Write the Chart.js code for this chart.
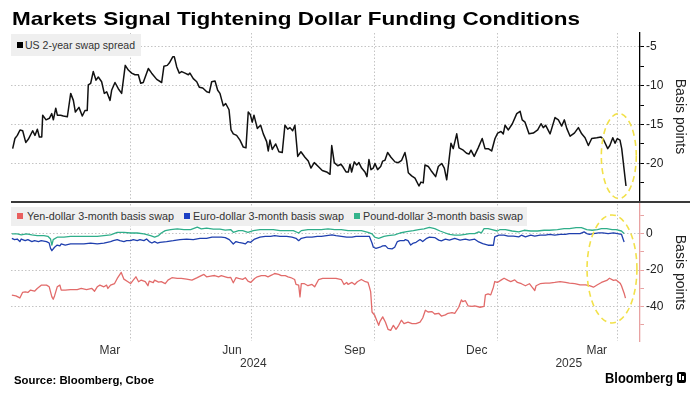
<!DOCTYPE html>
<html><head><meta charset="utf-8">
<script src="https://cdn.jsdelivr.net/npm/chart.js@4.4.0/dist/chart.umd.min.js"></script>
<style>
html,body{margin:0;padding:0;background:#fff;}
body{width:699px;height:399px;overflow:hidden;position:relative;font-family:"Liberation Sans",Arial,Helvetica,sans-serif;}
canvas{position:absolute;left:0;top:0;}
.abs{position:absolute;}
.fit{position:absolute;white-space:nowrap;transform-origin:0 50%;display:inline-block;}
.box{position:absolute;background:#efefef;}
.sq{position:absolute;width:6px;height:6px;}
</style></head><body>
<canvas id="c1" width="699" height="399"></canvas>
<canvas id="c2" width="699" height="399"></canvas>

<div class="fit" data-w="568" style="left:12px;top:7px;font-size:19px;line-height:24px;font-weight:bold;color:#000;">Markets Signal Tightening Dollar Funding Conditions</div>

<div class="box" style="left:11px;top:34px;width:130px;height:22px;"></div>
<div class="sq" style="left:17px;top:42px;background:#000;"></div>
<div class="fit" data-w="110" style="left:24.5px;top:34px;font-size:10.5px;line-height:22px;color:#333;">US 2-year swap spread</div>

<div class="abs" style="left:11px;top:200.5px;width:679px;height:2.2px;background:#3a3a3a;"></div>

<div class="box" style="left:11px;top:206.5px;width:516px;height:19px;"></div>
<div class="sq" style="left:17px;top:213px;background:#e95f5e;"></div>
<div class="fit" data-w="147" style="left:26.5px;top:206.5px;font-size:10.5px;line-height:19px;color:#333;">Yen-dollar 3-month basis swap</div>
<div class="sq" style="left:184px;top:213px;background:#1c3fc4;"></div>
<div class="fit" data-w="151" style="left:193px;top:206.5px;font-size:10.5px;line-height:19px;color:#333;">Euro-dollar 3-month basis swap</div>
<div class="sq" style="left:354px;top:213px;background:#34b38b;"></div>
<div class="fit" data-w="160" style="left:363px;top:206.5px;font-size:10.5px;line-height:19px;color:#333;">Pound-dollar 3-month basis swap</div>

<div class="fit" data-w="140" style="left:14px;top:372px;font-size:10.5px;line-height:16px;font-weight:bold;color:#000;">Source: Bloomberg, Cboe</div>
<div class="fit" data-w="68" style="left:605px;top:369px;font-size:14px;line-height:18px;font-weight:bold;color:#000;">Bloomberg</div>
<div class="abs" style="left:677px;top:372px;width:9px;height:11px;background:#000;border-radius:2px;">
  <div class="abs" style="left:2px;top:2px;width:2px;height:6px;background:#fff;"></div>
  <div class="abs" style="left:5px;top:4px;width:2px;height:4px;background:#fff;"></div>
</div>

<script>
// x values are days since 2024-01-01
const usDays = [2.6,4.3,6.1,8.1,10.1,12.4,14.3,17.6,19.3,21.1,
22.6,24.4,25.1,27.6,30.1,31.9,33.1,34.9,36.1,38.6,
40.6,43.6,46.1,48.1,49.6,52.3,54.8,56.8,58.5,59.3,
61.1,63.0,65.1,66.8,69.3,71.3,73.1,75.6,76.8,79.3,
81.8,84.3,87.0,89.3,91.8,94.3,96.8,98.6,100.5,104.3,
106.8,110.6,114.3,116.0,118.5,120.0,122.6,123.8,125.6,127.5,
129.3,131.8,134.3,135.5,138.0,140.6,142.5,145.1,148.1,150.0,
151.8,154.3,156.3,158.0,160.5,162.3,164.8,166.3,168.0,170.5,
173.0,175.5,177.5,179.2,180.7,182.2,183.5,186.0,188.5,190.5,
193.0,194.2,195.5,197.2,199.8,202.2,204.7,206.7,208.8,210.5,
212.5,214.2,216.3,218.7,221.7,224.2,226.2,228.7,231.7,234.7,
238.0,240.5,241.8,243.7,246.3,248.7,250.4,252.5,254.2,255.5,
256.7,258.7,260.5,262.2,264.2,266.7,268.2,269.7,271.2,272.9,
274.2,276.2,278.5,280.0,281.7,283.7,286.2,289.2,291.7,294.2,
296.7,297.9,299.2,301.7,304.2,307.2,308.7,310.4,311.7,314.2,
316.2,319.7,321.7,324.2,326.2,328.0,331.2,332.9,335.5,337.2,
340.4,342.9,344.7,346.2,348.6,351.6,354.6,356.7,359.1,361.7,
364.2,366.2,368.7,370.4,371.7,374.2,377.2,380.5,383.0,384.6,
386.7,389.7,392.9,396.2,398.7,400.4,402.2,405.5,409.2,411.7,
414.2,416.2,418.0,420.5,423.7,426.7,429.2,431.7,434.2,436.7,
440.5,443.7,445.4,448.7,450.3,452.5,454.2,455.9,457.9,459.2,
462.4];
const usSpread = [-18.1,-16.8,-16.4,-15.7,-15.8,-17.3,-16.9,-15.8,-16.4,-15.6,
-16.6,-16.6,-13.8,-14.4,-14.2,-13.6,-14.4,-12.9,-13.8,-13.8,
-13.9,-14.0,-11.0,-11.9,-13.4,-12.8,-13.9,-13.2,-13.2,-9.9,
-9.7,-8.2,-9.3,-8.9,-9.5,-11.0,-10.8,-11.9,-10.6,-9.6,
-10.4,-11.0,-7.4,-8.0,-8.4,-8.6,-8.6,-9.7,-9.6,-7.8,
-8.4,-9.2,-9.6,-7.5,-7.4,-7.1,-6.3,-6.3,-7.6,-8.4,
-8.2,-8.4,-8.6,-8.4,-9.1,-9.5,-10.2,-10.3,-10.8,-10.9,
-9.5,-9.4,-10.6,-11.0,-12.6,-12.3,-13.1,-15.7,-16.2,-16.4,
-17.0,-17.9,-18.0,-13.4,-13.7,-14.7,-13.8,-15.5,-15.1,-16.2,
-17.2,-18.4,-17.0,-18.2,-17.5,-18.5,-18.6,-15.1,-15.6,-15.4,
-15.8,-15.1,-19.1,-18.5,-19.2,-19.7,-20.6,-19.9,-20.4,-20.9,
-21.1,-21.4,-17.7,-19.9,-20.3,-20.1,-20.5,-21.1,-21.1,-20.1,
-21.1,-19.8,-20.2,-19.9,-20.6,-21.1,-21.7,-19.5,-20.8,-20.6,
-20.0,-20.8,-20.4,-19.7,-19.6,-18.6,-19.2,-19.8,-19.9,-19.6,
-18.6,-19.6,-21.2,-21.6,-21.9,-22.9,-22.4,-22.5,-20.2,-20.4,
-20.9,-21.7,-20.4,-20.0,-20.6,-22.1,-17.4,-18.1,-16.2,-18.0,
-18.3,-18.7,-18.8,-18.3,-19.1,-18.0,-16.8,-18.1,-18.1,-18.4,
-16.8,-16.1,-15.9,-16.2,-15.1,-15.7,-14.9,-13.6,-13.3,-14.4,
-14.7,-16.2,-16.1,-15.7,-14.9,-15.4,-15.1,-16.2,-14.1,-14.4,
-15.2,-14.4,-15.5,-16.5,-16.1,-15.4,-16.2,-16.7,-17.7,-16.8,
-16.7,-16.6,-16.9,-18.1,-17.7,-16.7,-17.4,-16.8,-17.0,-18.1,
-22.9];

const yenDays = [2,5,8,10,12,14,16,19,21,24, 28,30,32,33,34,36,38,39,42,46,
51,54,58,62,64,66,68,71,73,74, 76,79,81,84,86,89,91,93,95,97,
99,102,104,105,108,109,112,114,117,119, 122,126,129,133,137,141,144,146,148,151,
154,157,159,162,164,166,168,170,172,175, 177,179,181,184,186,189,192,194,197,199,
202,204,207,209,211,214,215,217,218,219, 221,224,227,229,232,235,238,242,245,249,
251,253,254,257,259,261,264,267,269,270, 271,272,274,275,277,278,280,282,284,286,
288,290,292,294,296,299,302,305,308,310, 312,314,317,319,322,324,327,329,332,334,
337,339,340,342,344,347,349,353,356,357, 359,361,363,364,366,369,371,374,376,379,
381,384,387,390,392,394,395,398,402,405, 409,413,417,420,424,428,432,435,438,441,
444,448,450,453,455,458,459,461,462];
const yenBasis = [-33.8,-34.2,-35.3,-32.3,-32.0,-32.3,-31.0,-31.6,-30.1,-28.3,
-28.3,-29.2,-34.7,-36.0,-34.2,-29.2,-28.3,-31.0,-31.0,-30.7,
-30.7,-30.1,-30.7,-30.1,-31.6,-29.2,-28.3,-29.2,-28.3,-30.1,
-28.3,-27.4,-24.6,-21.3,-25.0,-26.4,-27.4,-25.5,-23.7,-26.4,
-25.5,-26.4,-28.6,-26.1,-26.9,-25.5,-26.6,-26.4,-27.4,-25.5,
-24.2,-24.6,-24.6,-25.0,-25.5,-24.2,-23.1,-22.4,-23.7,-23.3,
-23.0,-23.7,-23.1,-23.7,-24.2,-24.0,-27.0,-24.2,-24.6,-25.1,
-24.2,-26.1,-26.8,-24.6,-23.7,-23.1,-23.1,-23.7,-22.7,-21.9,
-22.4,-23.1,-23.1,-23.7,-24.1,-25.2,-27.9,-28.3,-34.7,-27.4,
-27.4,-28.6,-27.9,-29.2,-25.2,-24.6,-24.6,-24.6,-24.6,-25.2,
-27.9,-26.8,-27.9,-26.8,-27.9,-26.4,-25.2,-26.4,-26.8,-29.2,
-32.0,-43.0,-44.8,-46.7,-50.3,-48.1,-45.7,-48.5,-52.5,-53.1,
-50.3,-52.5,-50.3,-47.5,-49.4,-48.5,-49.4,-49.4,-48.5,-46.3,
-42.0,-43.0,-42.8,-44.1,-43.7,-45.2,-44.6,-43.7,-43.4,-43.7,
-40.4,-36.4,-37.3,-36.8,-39.6,-39.9,-39.6,-40.4,-39.9,-33.6,
-33.1,-33.6,-29.4,-26.3,-26.8,-25.4,-24.5,-25.7,-26.3,-25.4,
-26.8,-27.5,-28.6,-27.5,-29.4,-31.2,-28.6,-27.5,-27.2,-27.2,
-26.8,-26.3,-26.8,-27.2,-27.5,-28.1,-28.1,-28.6,-29.4,-28.1,
-26.8,-25.7,-24.5,-25.7,-25.4,-27.2,-28.6,-32.7,-35.4];

const euroDays = [2,4,6,8,9,12,14,17,19,22, 24,28,30,31,32,34,36,38,39,42,
46,51,56,61,66,71,76,78,81,83, 86,88,91,93,96,98,101,103,105,107,
109,111,113,118,123,128,133,138,143,148, 152,156,159,162,165,168,170,172,175,177,
179,181,184,188,192,196,199,203,208,212, 215,217,219,223,227,231,234,238,242,245,
249,253,257,260,264,268,270,272,273,275, 278,280,282,284,287,289,291,293,296,297,
299,301,303,305,308,310,313,315,319,322, 324,327,330,334,338,342,345,349,352,355,
359,363,364,367,371,374,378,382,384,387, 391,394,398,402,405,409,413,417,420,424,
428,431,433,435,438,442,445,449,453,456, 459,461];
const euroBasis = [-2.6,-3.3,-3.0,-4.4,-3.0,-3.9,-3.3,-4.4,-3.9,-4.4,
-3.9,-4.4,-5.2,-8.1,-9.4,-7.5,-6.3,-6.8,-5.7,-6.3,
-5.7,-5.7,-5.7,-5.2,-5.7,-5.2,-4.4,-3.9,-3.3,-3.9,
-4.4,-3.9,-3.9,-3.3,-3.9,-3.3,-3.9,-3.0,-4.4,-5.2,
-4.4,-5.2,-4.8,-4.4,-3.9,-3.3,-3.0,-3.3,-2.6,-2.6,
-2.0,-2.0,-2.0,-2.2,-3.3,-5.7,-4.4,-4.8,-5.2,-5.7,
-4.4,-4.8,-3.0,-2.0,-1.5,-1.5,-1.1,-1.5,-1.5,-2.0,
-2.6,-3.9,-2.6,-2.0,-2.0,-1.5,-1.5,-1.1,-0.7,-1.1,
-1.5,-2.0,-2.0,-1.5,-1.5,-1.5,-1.5,-5.2,-7.5,-8.1,
-7.5,-6.8,-6.6,-8.1,-8.4,-7.5,-4.4,-3.9,-3.9,-3.3,
-3.9,-6.3,-5.2,-4.8,-3.3,-4.4,-2.6,-2.0,-2.2,-3.6,
-4.0,-3.1,-3.6,-2.7,-3.6,-3.1,-3.6,-3.1,-4.6,-5.5,
-6.4,-6.4,-1.8,-0.9,-0.9,-1.4,-1.4,-1.8,-0.9,-1.8,
-0.9,-1.4,-0.9,-0.9,-0.5,-0.9,-0.4,-0.4,0,0,
0,0.9,0,-0.5,0,0.4,0.4,0,0.4,0,
-0.4,-4.6];

const poundDays = [2,6,9,13,17,21,26,29,31,32, 33,36,41,46,51,56,61,66,71,76,
78,81,86,91,96,101,106,109,112,114, 117,121,126,131,136,141,144,148,153,158,
162,166,168,172,175,179,183,188,193,198, 203,208,213,217,219,224,229,234,239,244,
249,254,259,264,269,272,274,277,281,284, 289,293,298,303,307,311,315,319,323,327,
330,334,338,342,345,349,352,354,356,359, 362,366,368,372,377,382,386,391,396,401,
405,411,416,420,425,429,433,437,441,444, 448,452,455,459,461];
const poundBasis = [-0.2,-0.2,-0.7,-0.2,-0.7,-1.1,-1.1,-1.5,-3.0,-6.3,
-3.3,-2.0,-2.0,-1.6,-1.6,-1.5,-1.5,-1.5,-1.1,-0.7,
-0.2,0.7,0.7,0.3,0.3,-0.2,-1.1,-2.0,-1.1,0.3,
1.6,2.2,2.6,2.2,2.2,3.5,2.6,3.0,2.4,2.4,
1.9,2.2,0.7,1.6,1.6,0.7,1.6,2.2,2.2,2.2,
1.6,1.6,1.6,0.3,1.6,2.2,2.2,2.2,2.6,2.2,
2.2,1.6,1.6,1.6,0.7,-0.2,-2.0,-2.6,-1.5,-1.1,
-0.7,0.3,1.1,1.6,2.2,2.6,3.4,2.7,1.4,0.3,
-0.5,-0.9,-0.9,-0.4,0,0,0.9,0.4,2.7,2.7,
2.2,1.4,2.2,2.2,1.4,0.9,1.8,1.4,1.4,1.8,
1.8,2.2,2.7,2.7,3.3,3.3,2.2,1.8,2.2,2.7,
2.7,2.2,2.2,1.4,0];

// axis ticks (days since 2024-01-01)
const gridDays = [91, 182, 274, 366, 456];              // Apr 1, Jul 1, Oct 1, Jan 1, Apr 1
const monthTickDays = [75.5, 167, 259, 350.5, 440.5];
const monthTickLabels = ['Mar', 'Jun', 'Sep', 'Dec', 'Mar'];
const yearTickDays = [183, 419.5];
const yearTickLabels = ['2024', '2025'];
const topTickValues = [-22.5, -20, -17.5, -15, -12.5, -10, -7.5, -5];
const bottomTickValues = [-50, -40, -30, -20, -10, 0, 10];

const X_MIN = 1.35, X_MAX = 472.9;
const TOP_MIN = -24.7, TOP_MAX = -3.24;
const BOT_MIN = -58.9, BOT_MAX = 16.2;

const FAMILY = '"Liberation Sans", Arial, Helvetica, sans-serif';
Chart.defaults.font.family = FAMILY;
Chart.defaults.color = '#222';
const GRID = '#c4c4c4';

function pairs(xs, ys) {
  const n = Math.min(xs.length, ys.length), out = [];
  for (let i = 0; i < n; i++) out.push({x: xs[i], y: ys[i]});
  return out;
}

const ringPlugin = {
  id: 'ring',
  afterDatasetsDraw(chart, args, o) {
    if (!o || o.x === undefined) return;
    const xs = chart.scales.x, ys = chart.scales.y, ctx = chart.ctx;
    const cx = xs.getPixelForValue(o.x), cy = ys.getPixelForValue(o.y);
    const rx = Math.abs(xs.getPixelForValue(o.x + o.rx) - cx);
    const ry = Math.abs(ys.getPixelForValue(o.y + o.ry) - cy);
    ctx.save();
    ctx.strokeStyle = '#f2e14a';
    ctx.lineWidth = 1.6;
    ctx.setLineDash([6, 4]);
    ctx.beginPath();
    ctx.ellipse(cx, cy, rx, ry, 0, 0, Math.PI * 2);
    ctx.stroke();
    ctx.restore();
  }
};

function gridX() {
  return {
    type: 'linear', min: X_MIN, max: X_MAX, weight: 0,
    afterBuildTicks: s => { s.ticks = gridDays.map(v => ({value: v})); },
    ticks: {display: false},
    grid: {drawTicks: false, color: GRID, lineWidth: 1},
    border: {display: false, dash: [1.5, 2]},
    afterFit: s => { s.height = 0; }
  };
}

function rightY(min, max, values, isMajor, axisColor) {
  return {
    position: 'right', min: min, max: max,
    afterBuildTicks: s => { s.ticks = values.map(v => ({value: v})); },
    ticks: {callback: v => isMajor(v) ? String(v) : '', font: {size: 12}, color: '#222', padding: 2, autoSkip: false},
    grid: {tickLength: 4, color: c => (c.tick && isMajor(c.tick.value)) ? GRID : 'rgba(0,0,0,0)', tickColor: axisColor, tickWidth: 1},
    border: {display: true, color: axisColor, width: 1.3, dash: [1.5, 2]},
    title: {display: true, text: 'Basis points', font: {size: 14}, color: '#222', padding: {top: 11, bottom: 0}},
    afterFit: s => { s.width = 59; }
  };
}

const common = {
  responsive: false, animation: false, events: [],
  elements: {line: {tension: 0, borderJoinStyle: 'round'}, point: {radius: 0}}
};

new Chart(document.getElementById('c1'), {
  type: 'line',
  data: {datasets: [{
    label: 'US 2-year swap spread', data: pairs(usDays, usSpread),
    borderColor: '#111', borderWidth: 1.5, pointRadius: 0
  }]},
  options: Object.assign({}, common, {
    layout: {padding: {left: 11, right: 0, top: 33, bottom: 199}},
    plugins: {legend: {display: false}, tooltip: {enabled: false},
      ring: {x: 457, y: -19.05, rx: 13.1, ry: 5.46}},
    scales: {
      x: gridX(),
      y: rightY(TOP_MIN, TOP_MAX, topTickValues, v => Math.abs(v % 5) < 1e-9, '#000')
    }
  }),
  plugins: [ringPlugin]
});

const monthAxis = {
  type: 'linear', position: 'bottom', min: X_MIN, max: X_MAX, weight: 1,
  afterBuildTicks: s => { s.ticks = monthTickDays.map(v => ({value: v})); },
  ticks: {callback: (v, i) => monthTickLabels[i], autoSkip: false, maxRotation: 0, font: {size: 12}, color: '#333', padding: 2},
  grid: {display: false, drawTicks: false},
  border: {display: false},
  afterFit: s => { s.height = 14; }
};
const yearAxis = {
  type: 'linear', position: 'bottom', min: X_MIN, max: X_MAX, weight: 2,
  afterBuildTicks: s => { s.ticks = yearTickDays.map(v => ({value: v})); },
  ticks: {callback: (v, i) => yearTickLabels[i], autoSkip: false, maxRotation: 0, font: {size: 12}, color: '#333', padding: 1},
  grid: {display: false, drawTicks: false},
  border: {display: false},
  afterFit: s => { s.height = 16; }
};

new Chart(document.getElementById('c2'), {
  type: 'line',
  data: {datasets: [
    {label: 'Yen-dollar 3-month basis swap', data: pairs(yenDays, yenBasis), borderColor: '#e26b6a', borderWidth: 1.3, pointRadius: 0},
    {label: 'Euro-dollar 3-month basis swap', data: pairs(euroDays, euroBasis), borderColor: '#1f3fae', borderWidth: 1.3, pointRadius: 0},
    {label: 'Pound-dollar 3-month basis swap', data: pairs(poundDays, poundBasis), borderColor: '#2fae8a', borderWidth: 1.3, pointRadius: 0}
  ]},
  options: Object.assign({}, common, {
    layout: {padding: {left: 11, right: 0, top: 204, bottom: 28}},
    plugins: {legend: {display: false}, tooltip: {enabled: false},
      ring: {x: 451.9, y: -19.4, rx: 18.7, ry: 29.6}},
    scales: {
      x: gridX(),
      xm: monthAxis,
      xy: yearAxis,
      y: rightY(BOT_MIN, BOT_MAX, bottomTickValues, v => Math.abs(v % 20) < 1e-9, '#e8a2a2')
    }
  }),
  plugins: [ringPlugin]
});

document.querySelectorAll('.fit').forEach(el => {
  const target = parseFloat(el.dataset.w);
  const w = el.getBoundingClientRect().width;
  if (w > 0) el.style.transform = 'scaleX(' + (target / w) + ')';
});
</script>
</body></html>
